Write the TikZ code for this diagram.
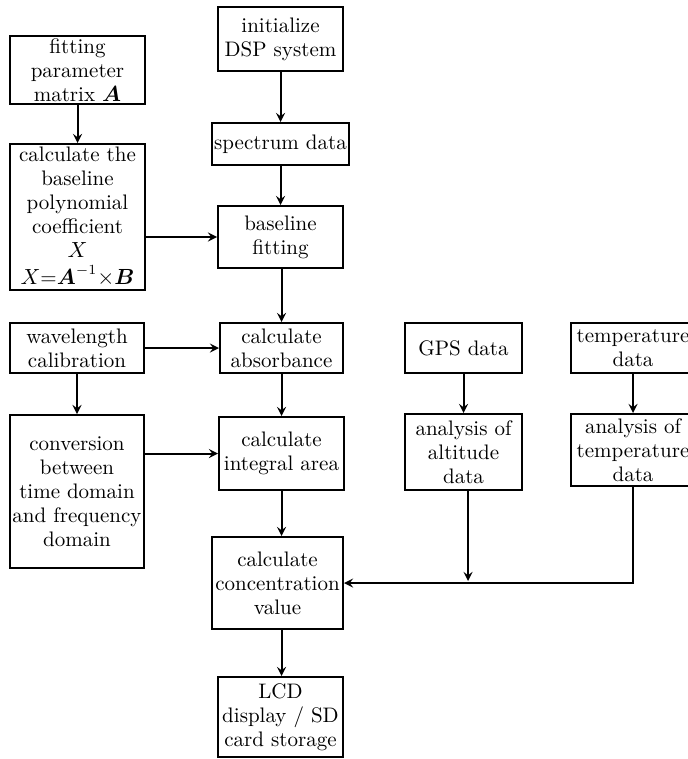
\documentclass[tikz,border=0pt]{standalone}
\usepackage{amsmath,amssymb}
\usepackage{tikz}

\begin{document}
\begin{tikzpicture}[x=0.5pt,y=-0.5pt,>=stealth,
  box/.style={draw,line width=1pt,align=center,inner sep=1pt,font=\fontsize{10.5}{12}\selectfont},
  flow/.style={->,line width=1pt}]
\useasboundingbox (0,0) rectangle (688,759);
% left column
\node[box,minimum width=67.5pt,minimum height=31.5pt] (fit) at (77.5,70) {fitting\\parameter\\matrix $\boldsymbol{A}$};
\node[box,minimum width=67.5pt,minimum height=73pt] (coef) at (77.5,217) {calculate the\\baseline\\polynomial\\coefficient\\$X$\\[1.5pt]$X$=$\boldsymbol{A}^{-1}{\times}\boldsymbol{B}$};
\node[box,minimum width=67pt,minimum height=25pt] (wave) at (77,348) {wavelength\\calibration};
\node[box,minimum width=67pt,minimum height=76.5pt] (conv) at (77,491.5) {conversion\\between\\time domain\\and frequency\\domain};
% middle column
\node[box,minimum width=62.5pt,minimum height=32pt] (init) at (280.5,39) {initialize\\DSP system};
\node[box,minimum width=62.5pt,minimum height=21pt] (spec) at (280.5,144) {spectrum data};
\node[box,minimum width=62.5pt,minimum height=31pt] (base) at (280.5,237) {baseline\\fitting};
\node[box,minimum width=61.5pt,minimum height=25pt] (absb) at (281.5,348) {calculate\\absorbance};
\node[box,minimum width=62.5pt,minimum height=36.5pt] (integ) at (281.5,453.5) {calculate\\integral area};
\node[box,minimum width=65.5pt,minimum height=46pt] (conc) at (277.5,583) {calculate\\concentration\\value};
\node[box,minimum width=62.5pt,minimum height=40pt] (lcd) at (280.5,717) {LCD\\display / SD\\card storage};
% right columns
\node[box,minimum width=58.5pt,minimum height=25pt] (gps) at (463.5,348) {GPS data};
\node[box,minimum width=58.5pt,minimum height=38pt] (alt) at (463.5,452) {analysis of\\altitude\\data};
\node[box,minimum width=62pt,minimum height=25pt] (tdat) at (633,348) {temperature\\data};
\node[box,minimum width=62pt,minimum height=36pt] (tana) at (633,450) {analysis of\\temperature\\data};
\coordinate (j) at (468,581);
% connectors
\draw[flow] (fit) -- (coef);
\draw[flow] (coef.east |- base) -- (base);
\draw[flow] (wave) -- (conv);
\draw[flow] (wave) -- (absb);
\draw[flow] (conv.east |- integ) -- (integ);
\draw[flow] (init) -- (spec);
\draw[flow] (spec) -- (base);
\draw[flow] (absb.north |- base.south) -- (absb);
\draw[flow] (absb) -- (integ);
\draw[flow] (integ) -- (integ |- conc.north);
\draw[flow] (conc.south -| integ) -- (integ |- lcd.north);
\draw[flow] (gps) -- (alt);
\draw[flow] (tdat) -- (tana);
\draw[flow] (alt.south -| j) -- (j);
\draw[flow] (tana.south) |- (conc.east);
\end{tikzpicture}
\end{document}
